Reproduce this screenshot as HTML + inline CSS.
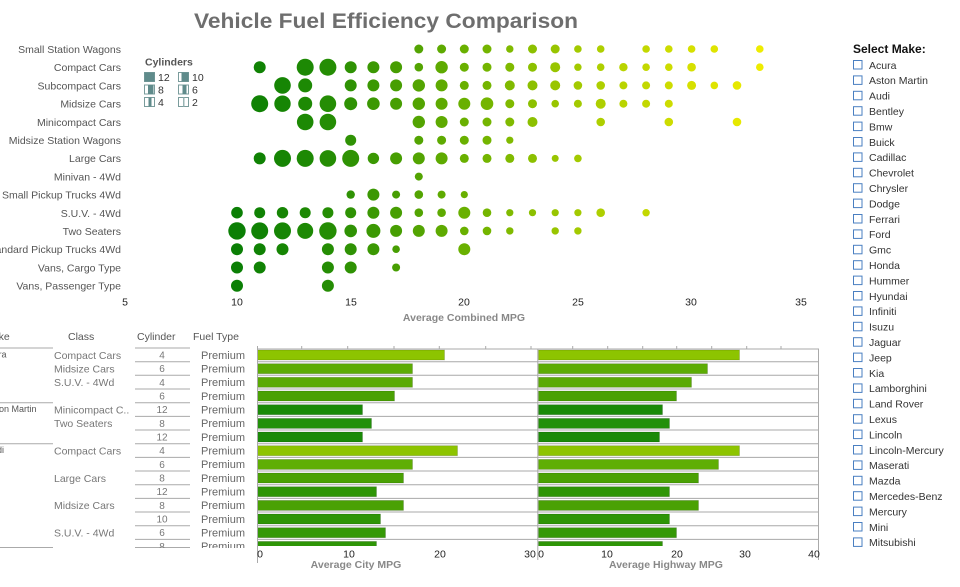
<!DOCTYPE html>
<html><head><meta charset="utf-8"><style>
html,body{margin:0;padding:0;background:#fff;}
svg{display:block;font-family:"Liberation Sans",Arial,sans-serif;}
.yl{font-size:10.5px;fill:#555;text-anchor:end;}
.tk{font-size:10.5px;fill:#222;text-anchor:middle;}
.ax{font-size:10.5px;fill:#888;font-weight:bold;text-anchor:middle;}
.mk{font-size:10.5px;fill:#333;}
.cb{fill:#fff;stroke:#4a7fc1;stroke-width:1;}
.th{font-size:10.5px;fill:#555;}
.cl{font-size:10.5px;fill:#777;}
.cy{font-size:10px;fill:#777;text-anchor:middle;}
.pr{font-size:11px;fill:#666;}
.k10{fill:#0b7f05}.k11{fill:#108204}.k12{fill:#168504}.k13{fill:#1d8904}.k14{fill:#258d04}
.k15{fill:#2f9204}.k16{fill:#3b9803}.k17{fill:#479e02}.k18{fill:#53a402}.k19{fill:#5eaa01}
.k20{fill:#69b000}.k21{fill:#74b500}.k22{fill:#80ba00}.k23{fill:#8cc000}.k24{fill:#98c500}
.k25{fill:#a3ca00}.k26{fill:#aecf00}.k27{fill:#b9d400}.k28{fill:#c3d800}.k29{fill:#cddc00}
.k30{fill:#d6e000}.k31{fill:#dfe400}.k32{fill:#e6e800}.k33{fill:#eeec00}
.lg{fill:#fff;stroke:#7a9c9c;stroke-width:1;}
.lf{fill:#5f8b8b;}
</style></head><body>
<svg width="960" height="587" viewBox="0 0 960 587" xmlns="http://www.w3.org/2000/svg">
<defs>
<clipPath id="tbl"><rect x="0" y="325" width="256" height="223"/></clipPath>
<clipPath id="plt"><rect x="256" y="349" width="564" height="197"/></clipPath>
</defs>

<text x="194" y="28" font-size="21" font-weight="bold" fill="#6e6e6e" textLength="384" lengthAdjust="spacingAndGlyphs">Vehicle Fuel Efficiency Comparison</text>

<text class="yl" x="121" y="53">Small Station Wagons</text>
<text class="yl" x="121" y="71.2">Compact Cars</text>
<text class="yl" x="121" y="89.4">Subcompact Cars</text>
<text class="yl" x="121" y="107.6">Midsize Cars</text>
<text class="yl" x="121" y="125.8">Minicompact Cars</text>
<text class="yl" x="121" y="144">Midsize Station Wagons</text>
<text class="yl" x="121" y="162.2">Large Cars</text>
<text class="yl" x="121" y="180.4">Minivan - 4Wd</text>
<text class="yl" x="121" y="198.6">Small Pickup Trucks 4Wd</text>
<text class="yl" x="121" y="216.8">S.U.V. - 4Wd</text>
<text class="yl" x="121" y="235">Two Seaters</text>
<text class="yl" x="121" y="253.2">Standard Pickup Trucks 4Wd</text>
<text class="yl" x="121" y="271.4">Vans, Cargo Type</text>
<text class="yl" x="121" y="289.6">Vans, Passenger Type</text>

<text class="tk" x="125" y="305.5">5</text>
<text class="tk" x="237" y="305.5">10</text>
<text class="tk" x="351" y="305.5">15</text>
<text class="tk" x="464" y="305.5">20</text>
<text class="tk" x="578" y="305.5">25</text>
<text class="tk" x="691" y="305.5">30</text>
<text class="tk" x="801" y="305.5">35</text>
<text class="ax" x="464" y="321">Average Combined MPG</text>

<text x="145" y="65.5" font-size="10.5" font-weight="bold" fill="#555">Cylinders</text>
<rect class="lg" x="144.5" y="72.5" width="10" height="9"/><rect class="lf" x="144.5" y="72.5" width="10" height="9"/>
<text x="158" y="81" font-size="10.5" fill="#333">12</text>
<rect class="lg" x="178.5" y="72.5" width="10" height="9"/><rect class="lf" x="181.5" y="72.5" width="7" height="9"/>
<text x="192" y="81" font-size="10.5" fill="#333">10</text>
<rect class="lg" x="144.5" y="85" width="10" height="9"/><rect class="lf" x="148" y="85" width="5.5" height="9"/>
<text x="158" y="93.5" font-size="10.5" fill="#333">8</text>
<rect class="lg" x="178.5" y="85" width="10" height="9"/><rect class="lf" x="182.5" y="85" width="4" height="9"/>
<text x="192" y="93.5" font-size="10.5" fill="#333">6</text>
<rect class="lg" x="144.5" y="97.5" width="10" height="9"/><rect class="lf" x="148.5" y="97.5" width="3" height="9"/>
<text x="158" y="106" font-size="10.5" fill="#333">4</text>
<rect class="lg" x="178.5" y="97.5" width="10" height="9"/><rect x="183" y="97.5" width="1.5" height="9" fill="#9ab5b5"/>
<text x="192" y="106" font-size="10.5" fill="#333">2</text>

<g transform="translate(0,49)">
<circle cx="418.8" r="4.5" class="k18"/><circle cx="441.6" r="4.5" class="k19"/><circle cx="464.3" r="4.5" class="k20"/><circle cx="487" r="4.5" class="k21"/><circle cx="509.8" r="3.7" class="k22"/><circle cx="532.5" r="4.5" class="k23"/><circle cx="555.2" r="4.5" class="k24"/><circle cx="577.9" r="3.8" class="k25"/><circle cx="600.7" r="3.8" class="k26"/><circle cx="646.1" r="3.8" class="k28"/><circle cx="668.8" r="3.8" class="k29"/><circle cx="691.6" r="3.8" class="k30"/><circle cx="714.3" r="3.8" class="k31"/><circle cx="759.8" r="3.8" class="k33"/>
</g>
<g transform="translate(0,67.2)">
<circle cx="259.7" r="6" class="k11"/><circle cx="305.2" r="8.5" class="k13"/><circle cx="327.9" r="8.5" class="k14"/><circle cx="350.7" r="6" class="k15"/><circle cx="373.4" r="6" class="k16"/><circle cx="396.1" r="6" class="k17"/><circle cx="418.8" r="4.3" class="k18"/><circle cx="441.6" r="6.2" class="k19"/><circle cx="464.3" r="4.5" class="k20"/><circle cx="487" r="4.5" class="k21"/><circle cx="509.8" r="4.5" class="k22"/><circle cx="532.5" r="4.5" class="k23"/><circle cx="555.2" r="5" class="k24"/><circle cx="577.9" r="3.7" class="k25"/><circle cx="600.7" r="3.8" class="k26"/><circle cx="623.4" r="4.2" class="k27"/><circle cx="646.1" r="3.8" class="k28"/><circle cx="668.8" r="3.8" class="k29"/><circle cx="691.6" r="4.3" class="k30"/><circle cx="759.8" r="3.8" class="k33"/>
</g>
<g transform="translate(0,85.4)">
<circle cx="282.5" r="8.3" class="k12"/><circle cx="305.2" r="7" class="k13"/><circle cx="350.7" r="6" class="k15"/><circle cx="373.4" r="6" class="k16"/><circle cx="396.1" r="6" class="k17"/><circle cx="418.8" r="6.2" class="k18"/><circle cx="441.6" r="6" class="k19"/><circle cx="464.3" r="4.5" class="k20"/><circle cx="487" r="4.5" class="k21"/><circle cx="509.8" r="5" class="k22"/><circle cx="532.5" r="5" class="k23"/><circle cx="555.2" r="5" class="k24"/><circle cx="577.9" r="4.3" class="k25"/><circle cx="600.7" r="4.3" class="k26"/><circle cx="623.4" r="4" class="k27"/><circle cx="646.1" r="4" class="k28"/><circle cx="668.8" r="4" class="k29"/><circle cx="691.6" r="4.5" class="k30"/><circle cx="714.3" r="3.8" class="k31"/><circle cx="737" r="4.3" class="k32"/>
</g>
<g transform="translate(0,103.7)">
<circle cx="259.7" r="8.5" class="k11"/><circle cx="282.5" r="8.2" class="k12"/><circle cx="305.2" r="7" class="k13"/><circle cx="327.9" r="8.3" class="k14"/><circle cx="350.7" r="6.5" class="k15"/><circle cx="373.4" r="6.3" class="k16"/><circle cx="396.1" r="6" class="k17"/><circle cx="418.8" r="6.2" class="k18"/><circle cx="441.6" r="6" class="k19"/><circle cx="464.3" r="6" class="k20"/><circle cx="487" r="6.3" class="k21"/><circle cx="509.8" r="4.5" class="k22"/><circle cx="532.5" r="4.5" class="k23"/><circle cx="555.2" r="3.8" class="k24"/><circle cx="577.9" r="4" class="k25"/><circle cx="600.7" r="5" class="k26"/><circle cx="623.4" r="4" class="k27"/><circle cx="646.1" r="4" class="k28"/><circle cx="668.8" r="4" class="k29"/>
</g>
<g transform="translate(0,122)">
<circle cx="305.2" r="8.3" class="k13"/><circle cx="327.9" r="8.3" class="k14"/><circle cx="418.8" r="6.2" class="k18"/><circle cx="441.6" r="6" class="k19"/><circle cx="464.3" r="4.5" class="k20"/><circle cx="487" r="4.5" class="k21"/><circle cx="509.8" r="4.5" class="k22"/><circle cx="532.5" r="5" class="k23"/><circle cx="600.7" r="4.3" class="k26"/><circle cx="668.8" r="4.3" class="k29"/><circle cx="737" r="4.3" class="k32"/>
</g>
<g transform="translate(0,140.2)">
<circle cx="350.7" r="5.5" class="k15"/><circle cx="418.8" r="4.5" class="k18"/><circle cx="441.6" r="4.5" class="k19"/><circle cx="464.3" r="4.5" class="k20"/><circle cx="487" r="4.5" class="k21"/><circle cx="509.8" r="3.6" class="k22"/>
</g>
<g transform="translate(0,158.4)">
<circle cx="259.7" r="6" class="k11"/><circle cx="282.5" r="8.5" class="k12"/><circle cx="305.2" r="8.5" class="k13"/><circle cx="327.9" r="8.3" class="k14"/><circle cx="350.7" r="8.5" class="k15"/><circle cx="373.4" r="5.7" class="k16"/><circle cx="396.1" r="6" class="k17"/><circle cx="418.8" r="6" class="k18"/><circle cx="441.6" r="6" class="k19"/><circle cx="464.3" r="4.5" class="k20"/><circle cx="487" r="4.5" class="k21"/><circle cx="509.8" r="4.5" class="k22"/><circle cx="532.5" r="4.5" class="k23"/><circle cx="555.2" r="3.5" class="k24"/><circle cx="577.9" r="3.8" class="k25"/>
</g>
<g transform="translate(0,176.6)">
<circle cx="418.8" r="4" class="k18"/>
</g>
<g transform="translate(0,194.6)">
<circle cx="350.7" r="4.2" class="k15"/><circle cx="373.4" r="6" class="k16"/><circle cx="396.1" r="4" class="k17"/><circle cx="418.8" r="4.3" class="k18"/><circle cx="441.6" r="4" class="k19"/><circle cx="464.3" r="3.6" class="k20"/>
</g>
<g transform="translate(0,212.7)">
<circle cx="237" r="5.8" class="k10"/><circle cx="259.7" r="5.5" class="k11"/><circle cx="282.5" r="5.7" class="k12"/><circle cx="305.2" r="5.5" class="k13"/><circle cx="327.9" r="5.5" class="k14"/><circle cx="350.7" r="5.5" class="k15"/><circle cx="373.4" r="6" class="k16"/><circle cx="396.1" r="6" class="k17"/><circle cx="418.8" r="4.3" class="k18"/><circle cx="441.6" r="4.3" class="k19"/><circle cx="464.3" r="6" class="k20"/><circle cx="487" r="4.3" class="k21"/><circle cx="509.8" r="3.6" class="k22"/><circle cx="532.5" r="3.6" class="k23"/><circle cx="555.2" r="3.6" class="k24"/><circle cx="577.9" r="3.6" class="k25"/><circle cx="600.7" r="4.3" class="k26"/><circle cx="646.1" r="3.7" class="k28"/>
</g>
<g transform="translate(0,230.9)">
<circle cx="237" r="8.7" class="k10"/><circle cx="259.7" r="8.5" class="k11"/><circle cx="282.5" r="8.5" class="k12"/><circle cx="305.2" r="8" class="k13"/><circle cx="327.9" r="8.7" class="k14"/><circle cx="350.7" r="6.3" class="k15"/><circle cx="373.4" r="7" class="k16"/><circle cx="396.1" r="6" class="k17"/><circle cx="418.8" r="6" class="k18"/><circle cx="441.6" r="6" class="k19"/><circle cx="464.3" r="4.3" class="k20"/><circle cx="487" r="4.3" class="k21"/><circle cx="509.8" r="3.7" class="k22"/><circle cx="555.2" r="3.7" class="k24"/><circle cx="577.9" r="3.7" class="k25"/>
</g>
<g transform="translate(0,249.2)">
<circle cx="237" r="6" class="k10"/><circle cx="259.7" r="6" class="k11"/><circle cx="282.5" r="6" class="k12"/><circle cx="327.9" r="6" class="k14"/><circle cx="350.7" r="6" class="k15"/><circle cx="373.4" r="6" class="k16"/><circle cx="396.1" r="3.8" class="k17"/><circle cx="464.3" r="6" class="k20"/>
</g>
<g transform="translate(0,267.5)">
<circle cx="237" r="6" class="k10"/><circle cx="259.7" r="6" class="k11"/><circle cx="327.9" r="6" class="k14"/><circle cx="350.7" r="6" class="k15"/><circle cx="396.1" r="4" class="k17"/>
</g>
<g transform="translate(0,285.8)">
<circle cx="237" r="6" class="k10"/><circle cx="327.9" r="6" class="k14"/>
</g>

<text class="th" x="-16" y="340">Make</text>
<text class="th" x="68" y="340">Class</text>
<text class="th" x="137" y="340">Cylinder</text>
<text class="th" x="193" y="340">Fuel Type</text>
<g clip-path="url(#tbl)">
<g stroke="#aaa" stroke-width="1">
<line x1="0" y1="348" x2="53" y2="348"/><line x1="0" y1="402.7" x2="53" y2="402.7"/><line x1="0" y1="443.7" x2="53" y2="443.7"/><line x1="0" y1="547.5" x2="53" y2="547.5"/>
<line x1="135" y1="348" x2="190" y2="348"/><line x1="135" y1="361.7" x2="190" y2="361.7"/><line x1="135" y1="375.3" x2="190" y2="375.3"/><line x1="135" y1="389" x2="190" y2="389"/><line x1="135" y1="402.7" x2="190" y2="402.7"/><line x1="135" y1="416.4" x2="190" y2="416.4"/><line x1="135" y1="430" x2="190" y2="430"/><line x1="135" y1="443.7" x2="190" y2="443.7"/><line x1="135" y1="457.4" x2="190" y2="457.4"/><line x1="135" y1="471" x2="190" y2="471"/><line x1="135" y1="484.7" x2="190" y2="484.7"/><line x1="135" y1="498.4" x2="190" y2="498.4"/><line x1="135" y1="512" x2="190" y2="512"/><line x1="135" y1="525.7" x2="190" y2="525.7"/><line x1="135" y1="539.4" x2="190" y2="539.4"/><line x1="135" y1="547.5" x2="190" y2="547.5"/>
</g>
<text x="-17" y="357.5" font-size="9" fill="#555">Acura</text>
<text x="-14" y="412" font-size="9" fill="#555">Aston Martin</text>
<text x="-14" y="453" font-size="9" fill="#555">Audi</text>
<text class="cl" x="54" y="358.8">Compact Cars</text>
<text class="cl" x="54" y="372.5">Midsize Cars</text>
<text class="cl" x="54" y="386.1">S.U.V. - 4Wd</text>
<text class="cl" x="54" y="413.5">Minicompact C..</text>
<text class="cl" x="54" y="427.2">Two Seaters</text>
<text class="cl" x="54" y="454.5">Compact Cars</text>
<text class="cl" x="54" y="481.8">Large Cars</text>
<text class="cl" x="54" y="509.2">Midsize Cars</text>
<text class="cl" x="54" y="536.5">S.U.V. - 4Wd</text>
<text class="cy" x="162" y="358.5">4</text>
<text class="cy" x="162" y="372.2">6</text>
<text class="cy" x="162" y="385.8">4</text>
<text class="cy" x="162" y="399.5">6</text>
<text class="cy" x="162" y="413.2">12</text>
<text class="cy" x="162" y="426.9">8</text>
<text class="cy" x="162" y="440.5">12</text>
<text class="cy" x="162" y="454.2">4</text>
<text class="cy" x="162" y="467.9">6</text>
<text class="cy" x="162" y="481.5">8</text>
<text class="cy" x="162" y="495.2">12</text>
<text class="cy" x="162" y="508.9">8</text>
<text class="cy" x="162" y="522.5">10</text>
<text class="cy" x="162" y="536.2">6</text>
<text class="cy" x="162" y="549.9">8</text>
<text class="pr" x="201" y="358.8">Premium</text>
<text class="pr" x="201" y="372.5">Premium</text>
<text class="pr" x="201" y="386.1">Premium</text>
<text class="pr" x="201" y="399.8">Premium</text>
<text class="pr" x="201" y="413.5">Premium</text>
<text class="pr" x="201" y="427.2">Premium</text>
<text class="pr" x="201" y="440.8">Premium</text>
<text class="pr" x="201" y="454.5">Premium</text>
<text class="pr" x="201" y="468.2">Premium</text>
<text class="pr" x="201" y="481.8">Premium</text>
<text class="pr" x="201" y="495.5">Premium</text>
<text class="pr" x="201" y="509.2">Premium</text>
<text class="pr" x="201" y="522.8">Premium</text>
<text class="pr" x="201" y="536.5">Premium</text>
<text class="pr" x="201" y="550.2">Premium</text>
</g>

<g clip-path="url(#plt)">
<g stroke="rgba(0,0,0,0.18)" stroke-width="0.8">
<rect x="257.5" y="350" width="187" height="10" fill="#8dc400"/>
<rect x="257.5" y="363.7" width="155" height="10" fill="#5cac04"/>
<rect x="257.5" y="377.3" width="155" height="10" fill="#5aaa04"/>
<rect x="257.5" y="391" width="137" height="10" fill="#4aa104"/>
<rect x="257.5" y="404.7" width="105" height="10" fill="#1a8a08"/>
<rect x="257.5" y="418.4" width="114" height="10" fill="#22900a"/>
<rect x="257.5" y="432" width="105" height="10" fill="#1a8a08"/>
<rect x="257.5" y="445.7" width="200" height="10" fill="#8dc400"/>
<rect x="257.5" y="459.4" width="155" height="10" fill="#5fae04"/>
<rect x="257.5" y="473" width="146" height="10" fill="#4aa104"/>
<rect x="257.5" y="486.7" width="119" height="10" fill="#2e9506"/>
<rect x="257.5" y="500.4" width="146" height="10" fill="#4aa104"/>
<rect x="257.5" y="514" width="123" height="10" fill="#2e9506"/>
<rect x="257.5" y="527.7" width="128" height="10" fill="#359906"/>
<rect x="257.5" y="541.4" width="119" height="10" fill="#2e9506"/>
<rect x="538.5" y="350" width="201" height="10" fill="#8dc400"/>
<rect x="538.5" y="363.7" width="169" height="10" fill="#5cac04"/>
<rect x="538.5" y="377.3" width="153" height="10" fill="#5aaa04"/>
<rect x="538.5" y="391" width="138" height="10" fill="#4aa104"/>
<rect x="538.5" y="404.7" width="124" height="10" fill="#1a8a08"/>
<rect x="538.5" y="418.4" width="131" height="10" fill="#22900a"/>
<rect x="538.5" y="432" width="121" height="10" fill="#1a8a08"/>
<rect x="538.5" y="445.7" width="201" height="10" fill="#8dc400"/>
<rect x="538.5" y="459.4" width="180" height="10" fill="#5fae04"/>
<rect x="538.5" y="473" width="160" height="10" fill="#4aa104"/>
<rect x="538.5" y="486.7" width="131" height="10" fill="#2e9506"/>
<rect x="538.5" y="500.4" width="160" height="10" fill="#4aa104"/>
<rect x="538.5" y="514" width="131" height="10" fill="#2e9506"/>
<rect x="538.5" y="527.7" width="138" height="10" fill="#359906"/>
<rect x="538.5" y="541.4" width="124" height="10" fill="#2e9506"/>
</g>
<g stroke="#a8a8a8" stroke-width="1">
<line x1="257" y1="361.7" x2="818" y2="361.7"/><line x1="257" y1="375.3" x2="818" y2="375.3"/><line x1="257" y1="389" x2="818" y2="389"/><line x1="257" y1="402.7" x2="818" y2="402.7"/><line x1="257" y1="416.4" x2="818" y2="416.4"/><line x1="257" y1="430" x2="818" y2="430"/><line x1="257" y1="443.7" x2="818" y2="443.7"/><line x1="257" y1="457.4" x2="818" y2="457.4"/><line x1="257" y1="471" x2="818" y2="471"/><line x1="257" y1="484.7" x2="818" y2="484.7"/><line x1="257" y1="498.4" x2="818" y2="498.4"/><line x1="257" y1="512" x2="818" y2="512"/><line x1="257" y1="525.7" x2="818" y2="525.7"/><line x1="257" y1="539.4" x2="818" y2="539.4"/>
</g>
</g>
<g stroke="#aaa" stroke-width="1">
<line x1="257" y1="349" x2="819" y2="349"/>
<line x1="257.5" y1="346" x2="257.5" y2="563"/>
<line x1="537.8" y1="349" x2="537.8" y2="560"/>
<line x1="818.5" y1="349" x2="818.5" y2="560"/>
<line x1="301.7" y1="346" x2="301.7" y2="349"/><line x1="347.7" y1="346" x2="347.7" y2="349"/><line x1="394" y1="346" x2="394" y2="349"/><line x1="439.3" y1="346" x2="439.3" y2="349"/><line x1="485.7" y1="346" x2="485.7" y2="349"/><line x1="531" y1="346" x2="531" y2="349"/>
<line x1="572.7" y1="346" x2="572.7" y2="349"/><line x1="607.7" y1="346" x2="607.7" y2="349"/><line x1="642.7" y1="346" x2="642.7" y2="349"/><line x1="676.7" y1="346" x2="676.7" y2="349"/><line x1="711.7" y1="346" x2="711.7" y2="349"/><line x1="746.7" y1="346" x2="746.7" y2="349"/><line x1="781" y1="346" x2="781" y2="349"/>
</g>
<text class="tk" x="260" y="557.5">0</text>
<text class="tk" x="349" y="557.5">10</text>
<text class="tk" x="440" y="557.5">20</text>
<text class="tk" x="530" y="557.5">30</text>
<text class="tk" x="541" y="557.5">0</text>
<text class="tk" x="607" y="557.5">10</text>
<text class="tk" x="677" y="557.5">20</text>
<text class="tk" x="745" y="557.5">30</text>
<text class="tk" x="814" y="557.5">40</text>
<text class="ax" x="356" y="568">Average City MPG</text>
<text class="ax" x="666" y="568">Average Highway MPG</text>

<text x="853" y="53" font-size="12" font-weight="bold" fill="#111">Select Make:</text>
<g>
<rect class="cb" x="853.5" y="60.5" width="8.5" height="8.5"/><text class="mk" x="869" y="68.8">Acura</text>
<rect class="cb" x="853.5" y="75.9" width="8.5" height="8.5"/><text class="mk" x="869" y="84.2">Aston Martin</text>
<rect class="cb" x="853.5" y="91.3" width="8.5" height="8.5"/><text class="mk" x="869" y="99.6">Audi</text>
<rect class="cb" x="853.5" y="106.7" width="8.5" height="8.5"/><text class="mk" x="869" y="115">Bentley</text>
<rect class="cb" x="853.5" y="122.1" width="8.5" height="8.5"/><text class="mk" x="869" y="130.4">Bmw</text>
<rect class="cb" x="853.5" y="137.5" width="8.5" height="8.5"/><text class="mk" x="869" y="145.8">Buick</text>
<rect class="cb" x="853.5" y="152.9" width="8.5" height="8.5"/><text class="mk" x="869" y="161.2">Cadillac</text>
<rect class="cb" x="853.5" y="168.3" width="8.5" height="8.5"/><text class="mk" x="869" y="176.6">Chevrolet</text>
<rect class="cb" x="853.5" y="183.7" width="8.5" height="8.5"/><text class="mk" x="869" y="192">Chrysler</text>
<rect class="cb" x="853.5" y="199.1" width="8.5" height="8.5"/><text class="mk" x="869" y="207.4">Dodge</text>
<rect class="cb" x="853.5" y="214.5" width="8.5" height="8.5"/><text class="mk" x="869" y="222.8">Ferrari</text>
<rect class="cb" x="853.5" y="229.9" width="8.5" height="8.5"/><text class="mk" x="869" y="238.2">Ford</text>
<rect class="cb" x="853.5" y="245.3" width="8.5" height="8.5"/><text class="mk" x="869" y="253.6">Gmc</text>
<rect class="cb" x="853.5" y="260.7" width="8.5" height="8.5"/><text class="mk" x="869" y="269">Honda</text>
<rect class="cb" x="853.5" y="276.1" width="8.5" height="8.5"/><text class="mk" x="869" y="284.4">Hummer</text>
<rect class="cb" x="853.5" y="291.5" width="8.5" height="8.5"/><text class="mk" x="869" y="299.8">Hyundai</text>
<rect class="cb" x="853.5" y="306.9" width="8.5" height="8.5"/><text class="mk" x="869" y="315.2">Infiniti</text>
<rect class="cb" x="853.5" y="322.3" width="8.5" height="8.5"/><text class="mk" x="869" y="330.6">Isuzu</text>
<rect class="cb" x="853.5" y="337.7" width="8.5" height="8.5"/><text class="mk" x="869" y="346">Jaguar</text>
<rect class="cb" x="853.5" y="353.1" width="8.5" height="8.5"/><text class="mk" x="869" y="361.4">Jeep</text>
<rect class="cb" x="853.5" y="368.5" width="8.5" height="8.5"/><text class="mk" x="869" y="376.8">Kia</text>
<rect class="cb" x="853.5" y="383.9" width="8.5" height="8.5"/><text class="mk" x="869" y="392.2">Lamborghini</text>
<rect class="cb" x="853.5" y="399.3" width="8.5" height="8.5"/><text class="mk" x="869" y="407.6">Land Rover</text>
<rect class="cb" x="853.5" y="414.7" width="8.5" height="8.5"/><text class="mk" x="869" y="423">Lexus</text>
<rect class="cb" x="853.5" y="430.1" width="8.5" height="8.5"/><text class="mk" x="869" y="438.4">Lincoln</text>
<rect class="cb" x="853.5" y="445.5" width="8.5" height="8.5"/><text class="mk" x="869" y="453.8">Lincoln-Mercury</text>
<rect class="cb" x="853.5" y="460.9" width="8.5" height="8.5"/><text class="mk" x="869" y="469.2">Maserati</text>
<rect class="cb" x="853.5" y="476.3" width="8.5" height="8.5"/><text class="mk" x="869" y="484.6">Mazda</text>
<rect class="cb" x="853.5" y="491.7" width="8.5" height="8.5"/><text class="mk" x="869" y="500">Mercedes-Benz</text>
<rect class="cb" x="853.5" y="507.1" width="8.5" height="8.5"/><text class="mk" x="869" y="515.4">Mercury</text>
<rect class="cb" x="853.5" y="522.5" width="8.5" height="8.5"/><text class="mk" x="869" y="530.8">Mini</text>
<rect class="cb" x="853.5" y="537.9" width="8.5" height="8.5"/><text class="mk" x="869" y="546.2">Mitsubishi</text>
</g>
</svg>
</body></html>
